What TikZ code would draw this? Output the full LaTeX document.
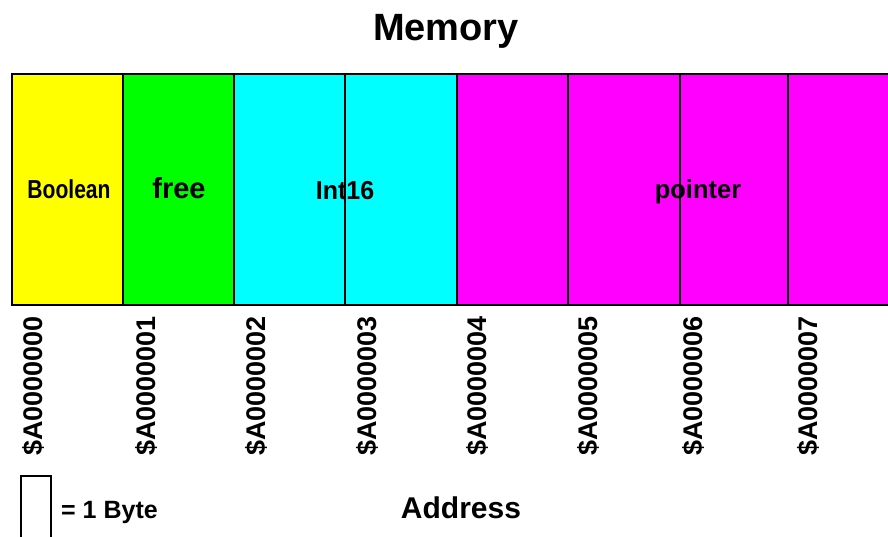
\documentclass[tikz,border=0pt]{standalone}
\usepackage{fontspec}
\setmainfont{Liberation Sans}
\definecolor{byteyellow}{RGB}{255,255,0}
\definecolor{bytegreen}{RGB}{0,255,0}
\definecolor{bytecyan}{RGB}{0,255,255}
\definecolor{bytemagenta}{RGB}{255,0,255}
\begin{document}
\begin{tikzpicture}[x=1pt,y=-1pt,
  cellline/.style={draw=black, line width=2.6pt},
  typelabel/.style={font=\bfseries\fontsize{26}{30}\selectfont, inner sep=0pt, anchor=base},
  addr/.style={font=\bfseries\fontsize{27}{31}\selectfont, rotate=90, anchor=north east, inner sep=0pt},
  caption/.style={font=\bfseries\fontsize{30}{34}\selectfont, inner sep=0pt, anchor=base},
]
\useasboundingbox (0,0) rectangle (888,536);

% memory cells, one column per byte
\begin{scope}
  \clip (0,0) rectangle (888,536);
  \fill[byteyellow]  (12,74) rectangle (123,305);
  \fill[bytegreen]   (123,74) rectangle (234,305);
  \fill[bytecyan]    (234,74) rectangle (457,305);
  \fill[bytemagenta] (457,74) rectangle (900,305);
  \draw[cellline] (900,74) -- (12,74) -- (12,305) -- (900,305);
  \foreach \x in {123,234,345,457,568,680,788}
    \draw[cellline] (\x,74) -- (\x,305);
\end{scope}

% type names
\node[typelabel, xscale=0.81] (boolean) at (69,198) {Boolean};
\node[typelabel, font=\bfseries\fontsize{29}{33}\selectfont] (free) at (179,198) {free};
\node[typelabel, xscale=0.96] (int16) at (345,199) {Int16};
\node[typelabel, xscale=0.98] (pointer) at (698,198) {pointer};

% addresses under each byte
\foreach \x/\n in {22/0,135/1,245/2,356/3,466/4,577/5,682/6,797/7}
  \node[addr] (a\n) at (\x,316) {\$A000000\n};

% title, axis caption and legend
\node[caption, font=\bfseries\fontsize{38}{42}\selectfont] (title) at (446,40) {Memory};
\node[caption] (address) at (461,518) {Address};
\draw[line width=2.4pt] (21,476) rectangle (51,548);
\node[caption, font=\bfseries\fontsize{25}{30}\selectfont, anchor=base west] (byte) at (61,518) {= 1 Byte};
\end{tikzpicture}
\end{document}
